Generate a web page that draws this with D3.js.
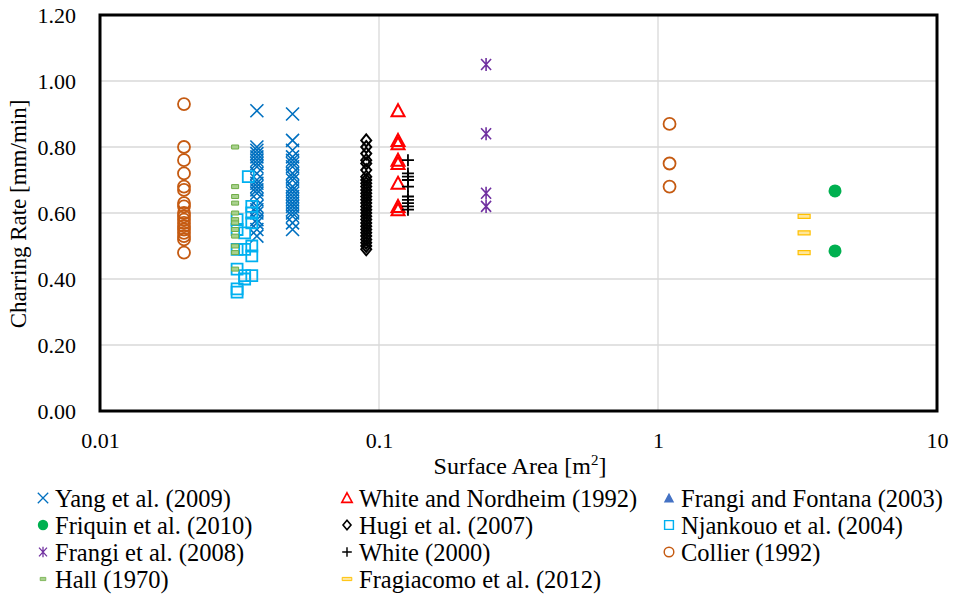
<!DOCTYPE html>
<html>
<head>
<meta charset="utf-8">
<script src="https://cdn.jsdelivr.net/npm/d3@7"></script>
<style>
  body { margin: 0; background: #fff; }
  svg text { font-family: "Times New Roman", "Liberation Serif", "DejaVu Serif", serif !important; fill: #000; }
</style>
</head>
<body>
<div id="chart"></div>
<script>
// data: [surface area m2, charring rate mm/min]
var yang = [
  [0.0365,0.91],[0.0365,0.80],[0.0365,0.79],[0.0365,0.78],[0.0365,0.77],[0.0365,0.76],[0.0365,0.75],
  [0.0365,0.74],[0.0365,0.72],[0.0365,0.70],[0.0365,0.69],[0.0365,0.68],[0.0365,0.67],[0.0365,0.66],
  [0.0365,0.64],[0.0365,0.62],[0.0365,0.61],[0.0365,0.60],[0.0365,0.58],[0.0365,0.57],[0.0365,0.55],[0.0365,0.53],
  [0.049,0.90],[0.049,0.82],[0.049,0.79],[0.049,0.77],[0.049,0.76],[0.049,0.75],[0.049,0.74],[0.049,0.72],
  [0.049,0.71],[0.049,0.70],[0.049,0.68],[0.049,0.67],[0.049,0.66],[0.049,0.65],[0.049,0.64],[0.049,0.63],
  [0.049,0.62],[0.049,0.61],[0.049,0.60],[0.049,0.59],[0.049,0.57],[0.049,0.55]
]
var whiteNordheim = [[0.117,0.91],[0.117,0.82],[0.117,0.81],[0.117,0.76],[0.117,0.75],[0.117,0.69],[0.117,0.62],[0.117,0.61]]
var frangiFontana = []
var friquin = [[4.31,0.667],[4.31,0.485]]
var hugi = [
  [0.09,0.82],[0.09,0.80],[0.09,0.78],[0.09,0.76],[0.09,0.75],[0.09,0.73],[0.09,0.71],[0.09,0.70],
  [0.09,0.69],[0.09,0.68],[0.09,0.67],[0.09,0.66],[0.09,0.65],[0.09,0.64],[0.09,0.63],[0.09,0.62],
  [0.09,0.61],[0.09,0.60],[0.09,0.59],[0.09,0.58],[0.09,0.57],[0.09,0.56],[0.09,0.55],[0.09,0.54],
  [0.09,0.53],[0.09,0.52],[0.09,0.51],[0.09,0.50],[0.09,0.49]
]
var njankouo = [
  [0.034,0.71],[0.035,0.62],[0.035,0.60],[0.031,0.58],[0.035,0.57],[0.031,0.55],[0.033,0.54],
  [0.035,0.50],[0.035,0.47],[0.031,0.49],[0.033,0.49],[0.031,0.43],[0.033,0.41],[0.035,0.41],
  [0.033,0.40],[0.031,0.37],[0.031,0.36]
]
var frangi2008 = [[0.242,1.05],[0.242,0.84],[0.242,0.66],[0.242,0.62]]
var white2000 = [[0.127,0.76],[0.127,0.72],[0.127,0.71],[0.127,0.70],[0.127,0.68],[0.127,0.65],[0.127,0.64],[0.127,0.63],[0.127,0.62],[0.127,0.61]]
var collier = [
  [0.02,0.93],[0.02,0.80],[0.02,0.76],[0.02,0.72],[0.02,0.68],[0.02,0.67],[0.02,0.63],[0.02,0.62],
  [0.02,0.60],[0.02,0.59],[0.02,0.58],[0.02,0.57],[0.02,0.56],[0.02,0.55],[0.02,0.54],[0.02,0.53],
  [0.02,0.52],[0.02,0.48],[1.1,0.87],[1.1,0.75],[1.1,0.68]
]
var hall = [[0.0305,0.80],[0.0305,0.68],[0.0305,0.65],[0.0305,0.63],[0.0305,0.60],[0.0305,0.58],[0.0305,0.57],
  [0.0305,0.55],[0.0305,0.53],[0.0305,0.50],[0.0305,0.48],[0.0305,0.43]]
var fragiacomo = [[3.34,0.59],[3.34,0.54],[3.34,0.48]]

var xTicks = [0.01, 0.1, 1, 10]
var xTickLabels = ["0.01", "0.1", "1", "10"]
var yTicks = [0, 0.2, 0.4, 0.6, 0.8, 1.0, 1.2]

// marker shapes
var shapes = {
  cross:   { d: "M-6.5,-6.5L6.5,6.5M-6.5,6.5L6.5,-6.5", fill: "none", sw: 1.6 },
  tri:     { d: "M0,-6.5L6.5,5.5L-6.5,5.5Z", fill: "none", sw: 2 },
  triFill: { d: "M0,-6.5L6.5,5.5L-6.5,5.5Z", fill: "c", sw: 0 },
  dot:     { d: "M6.5,0A6.5,6.5 0 1,1 -6.5,0A6.5,6.5 0 1,1 6.5,0Z", fill: "c", sw: 0 },
  diamond: { d: "M0,-6L5,0L0,6L-5,0Z", fill: "none", sw: 2 },
  square:  { d: "M-5.5,-5.5h11v11h-11Z", fill: "none", sw: 1.8 },
  star:    { d: "M-5,-5.5L5,5.5M-5,5.5L5,-5.5M0,-6.5V6.5", fill: "none", sw: 1.6 },
  plus:    { d: "M-6,0H6M0,-6V6", fill: "none", sw: 1.8 },
  ring:    { d: "M6,0A6,6 0 1,1 -6,0A6,6 0 1,1 6,0Z", fill: "none", sw: 1.8 },
  hallDash:{ d: "M-3.5,-2h7v4h-7Z", fill: "#a9d18e", sw: 1 },
  fragDash:{ d: "M-6,-2h12v4h-12Z", fill: "#ffe699", sw: 1.2 }
}

var series = [
  { name: "Yang et al. (2009)", data: yang, shape: "cross", color: "#0070C0" },
  { name: "White and Nordheim (1992)", data: whiteNordheim, shape: "tri", color: "#FF0000" },
  { name: "Frangi and Fontana (2003)", data: frangiFontana, shape: "triFill", color: "#4472C4" },
  { name: "Friquin et al. (2010)", data: friquin, shape: "dot", color: "#00B050" },
  { name: "Hugi et al. (2007)", data: hugi, shape: "diamond", color: "#000000" },
  { name: "Njankouo et al. (2004)", data: njankouo, shape: "square", color: "#00B0F0" },
  { name: "Frangi et al. (2008)", data: frangi2008, shape: "star", color: "#7030A0" },
  { name: "White (2000)", data: white2000, shape: "plus", color: "#000000" },
  { name: "Collier (1992)", data: collier, shape: "ring", color: "#C55A11" },
  { name: "Hall (1970)", data: hall, shape: "hallDash", color: "#70AD47" },
  { name: "Fragiacomo et al. (2012)", data: fragiacomo, shape: "fragDash", color: "#FFC000" }
]

var width = 958, height = 596
var m = { left: 100, right: 21, top: 15, bottom: 185 }
var fs = "22px"

var svg = d3.select("#chart").append("svg").attr("width", width).attr("height", height)

var x = d3.scaleLog().domain([0.01, 10]).range([m.left, width - m.right])
var y = d3.scaleLinear().domain([0, 1.2]).range([height - m.bottom, m.top])

// grid
svg.append("g").selectAll("line.h").data(yTicks.slice(1, -1)).enter().append("line")
  .attr("x1", m.left).attr("x2", width - m.right)
  .attr("y1", function (d) { return y(d) }).attr("y2", function (d) { return y(d) })
  .attr("stroke", "#d9d9d9").attr("stroke-width", 1.3)
svg.append("g").selectAll("line.v").data(xTicks.slice(1, -1)).enter().append("line")
  .attr("y1", m.top).attr("y2", height - m.bottom)
  .attr("x1", function (d) { return x(d) }).attr("x2", function (d) { return x(d) })
  .attr("stroke", "#d9d9d9").attr("stroke-width", 1.3)

// axes (labels only, Excel style)
var yAxis = svg.append("g").attr("transform", "translate(" + (m.left - 21) + ",0)")
  .call(d3.axisLeft(y).tickValues(yTicks).tickSize(0).tickFormat(d3.format(".2f")))
yAxis.select(".domain").remove()
yAxis.selectAll("text").style("font-size", fs).attr("dy", "0.35em")

var xAxis = svg.append("g").attr("transform", "translate(0," + (height - m.bottom + 18) + ")")
  .call(d3.axisBottom(x).tickValues(xTicks).tickSize(0).tickFormat(function (d, i) { return xTickLabels[i] }))
xAxis.select(".domain").remove()
xAxis.selectAll("text").style("font-size", fs)

// points
series.forEach(function (s) {
  var sh = shapes[s.shape]
  svg.append("g").selectAll("path").data(s.data).enter().append("path")
    .attr("d", sh.d)
    .attr("transform", function (d) { return "translate(" + x(d[0]) + "," + y(d[1]) + ")" })
    .attr("fill", sh.fill == "c" ? s.color : sh.fill)
    .attr("stroke", sh.sw ? s.color : "none")
    .attr("stroke-width", sh.sw)
})

// frame
svg.append("rect").attr("x", m.left).attr("y", m.top)
  .attr("width", width - m.left - m.right).attr("height", height - m.top - m.bottom)
  .attr("fill", "none").attr("stroke", "#000").attr("stroke-width", 3)

// axis titles
var xt = svg.append("text").attr("x", 520).attr("y", 474)
  .attr("text-anchor", "middle").style("font-size", "24px")
xt.append("tspan").text("Surface Area [m")
xt.append("tspan").attr("dy", -9).style("font-size", "15px").text("2")
xt.append("tspan").attr("dy", 9).text("]")

svg.append("text").attr("transform", "translate(26,214) rotate(-90)")
  .attr("text-anchor", "middle").style("font-size", "23px").text("Charring Rate [mm/min]")

// legend
var colX = [43, 347, 669], rowY = [498, 525, 552, 579]
series.forEach(function (s, i) {
  var cx = colX[i % 3], cy = rowY[Math.floor(i / 3)]
  var sh = shapes[s.shape]
  var g = svg.append("g").attr("transform", "translate(" + cx + "," + cy + ")")
  g.append("path").attr("d", sh.d).attr("transform", "scale(0.8)")
    .attr("fill", sh.fill == "c" ? s.color : sh.fill)
    .attr("stroke", sh.sw ? s.color : "none")
    .attr("stroke-width", sh.sw)
  g.append("text").attr("x", 12).attr("dy", "0.35em").style("font-size", "24.5px").text(s.name)
})
</script>
</body>
</html>
